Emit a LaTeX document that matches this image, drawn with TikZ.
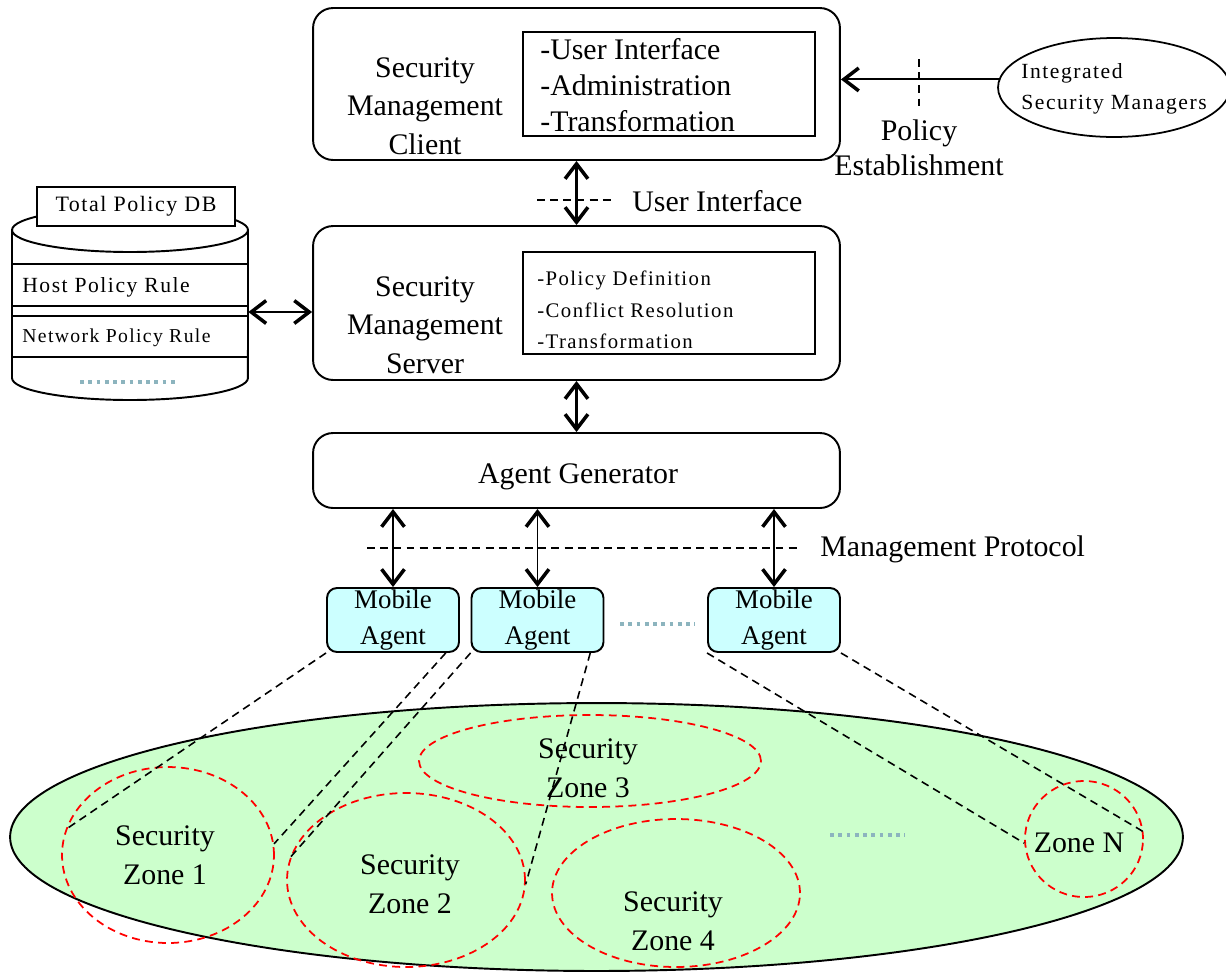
\documentclass[tikz,border=0pt]{standalone}
\usepackage{fontspec}
\setmainfont{Liberation Serif}
\newfontfamily\tracked[LetterSpace=7]{Liberation Serif}
\usetikzlibrary{arrows.meta,shapes.geometric}

\definecolor{agentcyan}{RGB}{204,255,255}
\definecolor{fieldgreen}{RGB}{204,255,204}
\definecolor{grain}{RGB}{140,180,190}

\tikzset{
  barb/.tip={Straight Barb[length=8.5pt,width=13pt,line width=2pt]},
  panel/.style={draw, line width=1.1pt, rounded corners=0.4cm, minimum width=10.54cm},
  listbox/.style={draw, line width=1pt, minimum width=5.84cm},
  agentbox/.style={draw, line width=1.1pt, rounded corners=0.2cm, fill=agentcyan,
    minimum width=2.64cm, minimum height=1.28cm, inner sep=0pt,
    align=center, font=\fontsize{15.3}{20.4}\selectfont},
  bigtext/.style={inner sep=0pt, align=center, font=\fontsize{17}{22}\selectfont},
  itemtext/.style={inner sep=0pt, align=left, anchor=west},
  smalltext/.style={inner sep=0pt, align=left, anchor=west, font=\tracked\fontsize{12.3}{17.6}\selectfont},
  dblarrow/.style={line width=1.4pt, barb-barb},
  onearrow/.style={line width=1.1pt, -barb},
  guide/.style={dash pattern=on 4.5pt off 3pt, line width=0.9pt},
  link/.style={dash pattern=on 4.5pt off 3pt, line width=0.9pt},
  zone/.style={draw=red, ellipse, inner sep=0pt, dash pattern=on 4.5pt off 3pt, line width=1pt},
  dotrow/.style={draw=grain, line width=1.8pt, dash pattern=on 2.2pt off 2.5pt},
}

\begin{document}
\begin{tikzpicture}[x=0.02cm, y=-0.02cm]
\useasboundingbox (0,0) rectangle (1226,971);

% ---------- management client ----------
\node[panel, minimum height=3.04cm] (client) at (576.5,84) {};
\node[listbox, minimum height=2.08cm] (clist) at (669,84) {};
\node[bigtext] (clienttxt) at (425,106) {Security\\Management\\Client};
\node[itemtext, font=\fontsize{17}{20.4}\selectfont] (citems) at (540,85)
  {-User Interface\\-Administration\\-Transformation};

% ---------- integrated security managers ----------
\node[draw, ellipse, line width=1pt, inner sep=0pt, minimum width=4.64cm, minimum height=1.98cm]
  (ism) at (1114,87.5) {};
\node[smalltext] (ismtxt) at (1021,89) {Integrated\\Security Managers};
\draw[onearrow] (ism.176) -- (ism.176 -| client.east);
\coordinate (tickA) at (919,59);
\coordinate (tickB) at (919,107);
\draw[guide] (tickA) -- (tickB);
\node[bigtext, font=\fontsize{17}{20}\selectfont] (poltxt) at (919,148) {Policy\\Establishment};

% ---------- management server ----------
\node[panel, minimum height=3.08cm] (server) at (576.5,303) {};
\node[listbox, minimum height=2.04cm] (slist) at (669,303) {};
\node[bigtext] (servertxt) at (425,325) {Security\\Management\\Server};
\node[smalltext, font=\tracked\fontsize{11.8}{17.9}\selectfont] (sitems) at (537,310)
  {-Policy Definition\\-Conflict Resolution\\-Transformation};

% client <-> server
\draw[dblarrow] (client.south) -- (server.north);
\coordinate (uiA) at (537,200);
\coordinate (uiB) at (615,200);
\draw[guide] (uiA) -- (uiB);
\node[bigtext, anchor=west] (uitxt) at (632,201) {User Interface};

% ---------- policy database ----------
\draw[line width=1.1pt, fill=white]
  (12,230) -- (12,378) arc[start angle=180, end angle=360, x radius=2.36cm, y radius=0.44cm]
  -- (248,230) arc[start angle=0, end angle=180, x radius=2.36cm, y radius=0.44cm] -- cycle;
\draw[line width=1.1pt] (12,230) arc[start angle=180, end angle=360, x radius=2.36cm, y radius=0.44cm];
\foreach \yy in {264,306,316,357} \draw[line width=1pt] (12,\yy) -- (248,\yy);
\node[draw, fill=white, line width=1pt, minimum width=3.96cm, minimum height=0.78cm, inner sep=0pt,
  font=\tracked\fontsize{12.5}{14}\selectfont] (dbtitle) at (136,206.5) {Total Policy DB};
\node[smalltext] (hostrule) at (22,287) {Host Policy Rule};
\node[smalltext, font=\tracked\fontsize{11.2}{14}\selectfont] (netrule) at (22,338) {Network Policy Rule};
\coordinate (dbdotA) at (80,382);
\coordinate (dbdotB) at (178,382);
\draw[dotrow] (dbdotA) -- (dbdotB);
\node[minimum width=4.72cm, minimum height=1cm, inner sep=0pt] (db) at (130,312) {};
\draw[dblarrow] (db.east) -- (db.east -| server.west);

% ---------- agent generator ----------
\node[panel, minimum height=1.5cm] (gen) at (576.5,470.5) {};
\node[bigtext] (gentxt) at (578,477) {Agent Generator};
\draw[dblarrow] (server.south) -- (gen.north);

% ---------- mobile agents ----------
\node[agentbox] (ma1) at (393,620) {Mobile\\Agent};
\node[agentbox] (ma2) at (537.5,620) {Mobile\\Agent};
\node[agentbox] (ma3) at (774,620) {Mobile\\Agent};
\foreach \a in {ma1,ma2,ma3}
  \draw[dblarrow, line width=1.1pt] (gen.south -| \a.north) -- (\a.north);
\coordinate (mpA) at (367,548);
\coordinate (mpB) at (800,548);
\draw[guide] (mpA) -- (mpB);
\node[bigtext, anchor=west] (mptxt) at (820,549) {Management Protocol};
\coordinate (madotA) at (620,624);
\coordinate (madotB) at (695,624);
\draw[dotrow] (madotA) -- (madotB);

% ---------- managed field and security zones ----------
\node[draw, ellipse, fill=fieldgreen, line width=1.1pt, inner sep=0pt,
  minimum width=23.46cm, minimum height=5.36cm] (field) at (596.5,837) {};
\node[zone, minimum width=6.84cm, minimum height=1.84cm] (z3) at (590,761) {};
\node[zone, minimum width=4.24cm, minimum height=3.52cm] (z1) at (168,855) {};
\node[zone, minimum width=4.76cm, minimum height=3.48cm] (z2) at (406,880) {};
\node[zone, minimum width=4.96cm, minimum height=2.96cm] (z4) at (676,893) {};
\node[zone, minimum width=2.36cm, minimum height=2.32cm] (zN) at (1084,839) {};
\node[bigtext] (z1txt) at (165,855) {Security\\Zone 1};
\node[bigtext] (z2txt) at (410,884) {Security\\Zone 2};
\node[bigtext] (z3txt) at (588,768) {Security\\Zone 3};
\node[bigtext] (z4txt) at (673,921) {Security\\Zone 4};
\node[bigtext] (zNtxt) at (1079,843) {Zone N};
\coordinate (fddotA) at (830,835);
\coordinate (fddotB) at (905,835);
\draw[dotrow] (fddotA) -- (fddotB);

% agents to the zones they watch
\draw[link] (ma1.south west) -- (z1.166);
\draw[link] (ma1.-32) -- (z1.6);
\draw[link] (ma2.south west) -- (z2.169);
\draw[link] (ma2.-32) -- (z2.-2);
\draw[link] (ma3.south west) -- (zN.184);
\draw[link] (ma3.south east) -- (zN.7);
\end{tikzpicture}
\end{document}
